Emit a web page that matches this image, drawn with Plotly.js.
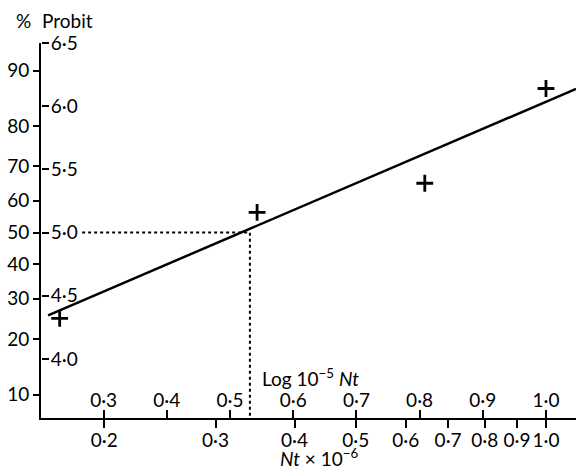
<!DOCTYPE html>
<html>
<head>
<meta charset="utf-8">
<script src="https://cdn.plot.ly/plotly-3.0.1.min.js"></script>
<style>html,body{margin:0;padding:0;background:#fff;}#chart{width:576px;height:473px;}</style>
</head>
<body>
<div id="chart"></div>
<script>
// Observed points: Nt x 10^-6 and probit value
const obsNt = [0.170, 0.349, 0.643, 1.0];
const obsProbit = [4.32, 5.16, 5.39, 6.14];

// Fitted probit line (end points)
const fitNt = [0.163, 1.116];
const fitProbit = [4.345, 6.137];

// Dotted reference lines at 50% (probit 5)
const refNt = [0.1845, 0.340, 0.340];
const refProbit = [5.0, 5.0, 3.53];

// Bottom axis: Nt x 10^-6 (log scale)
const ntTicks = [0.2, 0.3, 0.4, 0.5, 0.6, 0.7, 0.8, 0.9, 1.0];
const ntLabels = ['0·2', '0·3', '0·4', '0·5', '0·6', '0·7', '0·8', '0·9', '1·0'];

// Inner axis: Log 10^-5 Nt (linear)
const logTicks = [0.3, 0.4, 0.5, 0.6, 0.7, 0.8, 0.9, 1.0];
const logLabels = ['0·3', '0·4', '0·5', '0·6', '0·7', '0·8', '0·9', '1·0'];

// Left axis: percent labels at their probit positions
const pctLabels = ['10', '20', '30', '40', '50', '60', '70', '80', '90'];
const pctProbit = [3.718, 4.158, 4.476, 4.747, 5.0, 5.253, 5.524, 5.842, 6.282];

// Probit scale
const probitTicks = [4.0, 4.5, 5.0, 5.5, 6.0, 6.5];
const probitLabels = ['4·0', '4·5', '5·0', '5·5', '6·0', '6·5'];

const FONT = 'Lato, "Open Sans", sans-serif';
const FS = 19;
const yRange = [3.532, 6.5];

const traces = [
  {x: refNt, y: refProbit, mode: 'lines', line: {color: '#000', width: 2, dash: 'dot'}, hoverinfo: 'skip'},
  {x: fitNt, y: fitProbit, mode: 'lines', line: {color: '#000', width: 2.5}, hoverinfo: 'skip'},
  {x: obsNt, y: obsProbit, mode: 'markers',
   marker: {symbol: 'cross-thin', size: 12, color: '#000', line: {color: '#000', width: 2.8}}},
  {x: [], y: [], xaxis: 'x2', yaxis: 'y', hoverinfo: 'skip'},
  {x: [], y: [], xaxis: 'x', yaxis: 'y2', hoverinfo: 'skip'}
];

const axisCommon = {showgrid: false, zeroline: false, tickcolor: '#000', tickwidth: 2, tickangle: 0,
  fixedrange: true, automargin: false, tickfont: {family: FONT, size: FS, color: '#000'}};

const layout = {
  width: 576, height: 473,
  margin: {l: 41, r: 0, t: 43, b: 55, pad: 0},
  paper_bgcolor: '#fff', plot_bgcolor: '#fff',
  showlegend: false,
  font: {family: FONT, size: FS, color: '#000'},
  xaxis: Object.assign({}, axisCommon, {
    type: 'log', range: [-0.7991, 0.0475],
    tickmode: 'array', tickvals: ntTicks, ticktext: ntLabels,
    ticks: 'outside', ticklen: 8, ticklabelstandoff: -4,
    showline: true, linewidth: 2, linecolor: '#000'
  }),
  xaxis2: Object.assign({}, axisCommon, {
    overlaying: 'x', anchor: 'free', position: 0, side: 'top',
    range: [0.2009, 1.0475],
    tickmode: 'array', tickvals: logTicks, ticktext: logLabels,
    ticks: 'outside', ticklen: 8, ticklabelstandoff: -5,
    showline: false
  }),
  yaxis: Object.assign({}, axisCommon, {
    range: yRange,
    tickmode: 'array', tickvals: pctProbit, ticktext: pctLabels,
    ticks: 'outside', ticklen: 6,
    showline: true, linewidth: 2, linecolor: '#000'
  }),
  yaxis2: Object.assign({}, axisCommon, {
    overlaying: 'y', anchor: 'free', position: 0, side: 'right',
    range: yRange,
    tickmode: 'array', tickvals: probitTicks, ticktext: probitLabels,
    ticks: 'outside', ticklen: 7, ticklabelstandoff: -2,
    showline: false
  }),
  annotations: [
    {text: '%', xref: 'paper', yref: 'paper', x: -0.0505, y: 1.0613,
     xanchor: 'left', yanchor: 'middle', showarrow: false, font: {family: FONT, size: FS, color: '#000'}},
    {text: 'Probit', xref: 'paper', yref: 'paper', x: -0.0019, y: 1.0613,
     xanchor: 'left', yanchor: 'middle', showarrow: false, font: {family: FONT, size: FS, color: '#000'}},
    {text: 'Log 10<sup>−5</sup> <i>Nt</i>', xref: 'paper', yref: 'paper', x: 0.4093, y: 0.1093,
     xanchor: 'left', yanchor: 'middle', showarrow: false, font: {family: FONT, size: FS, color: '#000'}},
    {text: '<i>Nt</i> × 10<sup>−6</sup>', xref: 'paper', yref: 'paper', x: 0.443, y: -0.1053,
     xanchor: 'left', yanchor: 'middle', showarrow: false, font: {family: FONT, size: FS, color: '#000'}}
  ]
};

Plotly.newPlot('chart', traces, layout, {displayModeBar: false, staticPlot: true});
</script>
</body>
</html>
